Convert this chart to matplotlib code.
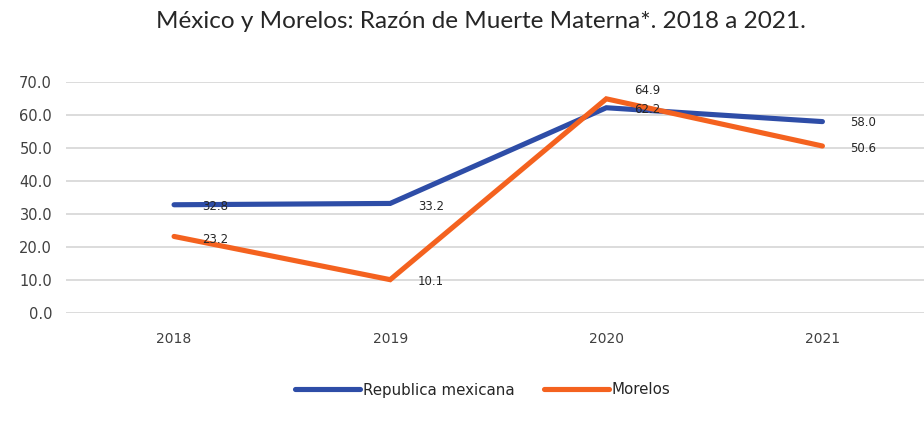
import matplotlib
matplotlib.use("Agg")
import matplotlib.pyplot as plt

plt.rcParams["font.family"] = ["DejaVu Sans"]

years = ["2018", "2019", "2020", "2021"]
republica = [32.8, 33.2, 62.2, 58.0]
morelos = [23.2, 10.1, 64.9, 50.6]
yticks = [0, 10, 20, 30, 40, 50, 60, 70]

W, H = 924, 425
fig = plt.figure(figsize=(W/100, H/100), dpi=100)
ax = fig.add_axes([66/W, 1-313/H, (924-66)/W, (313-82)/H])

x = list(range(len(years)))
blue = "#2E4DA7"
orange = "#F4621F"
ax.plot(x, republica, color=blue, lw=3.7, solid_capstyle="round", solid_joinstyle="miter", label="Republica mexicana", zorder=3)
ax.plot(x, morelos, color=orange, lw=3.7, solid_capstyle="round", solid_joinstyle="miter", label="Morelos", zorder=4)

ax.set_xlim(-0.5, 3.47)
ax.set_ylim(0, 70)
ax.set_yticks(yticks)
ax.set_yticklabels([f"{v:.1f}" for v in yticks])
ax.set_xticks(x)
ax.set_xticklabels(years)
ax.grid(axis="y", color="#d9d9d9", lw=1.3)
ax.set_axisbelow(True)
for s in ax.spines.values():
    s.set_visible(False)
ax.tick_params(length=0, labelsize=10.5, colors="#404040", pad=10)
ax.tick_params(axis="x", pad=14, labelsize=10)

lab_kw = dict(fontsize=8.5, color="#262626", zorder=5)
rep_dy = [-1, -2, -1, -1]
mor_dy = [-2, -1, 6, -2]
for i, v in enumerate(republica):
    ax.annotate(f"{v:.1f}", (i, v), xytext=(20, rep_dy[i]), textcoords="offset points",
                ha="left", va="center", **lab_kw)
for i, v in enumerate(morelos):
    ax.annotate(f"{v:.1f}", (i, v), xytext=(20, mor_dy[i]), textcoords="offset points",
                ha="left", va="center", **lab_kw)

fig.text(481/W, 1-22/H, "México y Morelos: Razón de Muerte Materna*. 2018 a 2021.", ha="center", va="center",
         fontsize=17.5, family="Lato", color="#262626")

leg = fig.legend(loc="center", bbox_to_anchor=(483/W, 1-390/H), ncol=2, frameon=False, fontsize=10.8,
                 handlelength=4.3, columnspacing=2.0, handletextpad=0.2, labelcolor="#262626")
fig.savefig("out.png", dpi=100)
